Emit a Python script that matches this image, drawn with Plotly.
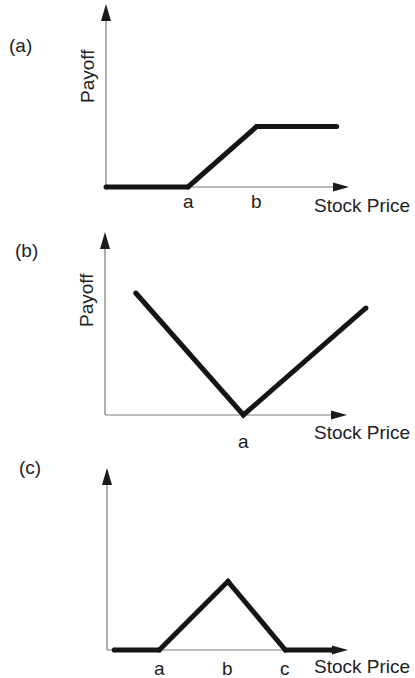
import plotly.graph_objects as go

# ---- payoff diagrams (stock price on x, payoff on y; arbitrary units) ----
# (a) bull spread
price_a = [0.0, 4.0, 7.35, 11.25]
payoff_a = [0.0, 0.0, 2.95, 2.95]
ticks_a = [4.0, 7.35]
ticklabels_a = ["a", "b"]

# (b) straddle
price_b = [1.5, 6.75, 12.73]
payoff_b = [5.95, 0.0, 5.22]
ticks_b = [6.75]
ticklabels_b = ["a"]

# (c) butterfly spread
price_c = [0.35, 2.55, 5.9, 8.7, 11.0]
payoff_c = [0.0, 0.0, 3.35, 0.0, 0.0]
ticks_c = [2.55, 5.9, 8.7]
ticklabels_c = ["a", "b", "c"]

panel_tags = ["(a)", "(b)", "(c)"]
x_title = "Stock Price"
y_title = "Payoff"

W, H = 415, 678
K = 20.5  # pixels per unit on both axes
FONT = dict(family="Liberation Sans, Arial, sans-serif", size=19, color="#1e1e1e")
LINE_COLOR = "#151515"
AXIS_COLOR = "#7a7a7a"

# panel geometry in pixels: origin, axis tips, plot box
panels = [
    dict(ox=106, oy=187, xtip=349, ytip=4, box=(85, 400, 0, 215),
         x=price_a, y=payoff_a, ticks=ticks_a, labels=ticklabels_a,
         tick_base=20, title_base=24, tag=(20, 46), ylab=(87, 76)),
    dict(ox=105, oy=415, xtip=347, ytip=232, box=(85, 400, 220, 455),
         x=price_b, y=payoff_b, ticks=ticks_b, labels=ticklabels_b,
         tick_base=32, title_base=23, tag=(26.5, 251), ylab=(86, 300)),
    dict(ox=107, oy=650, xtip=348, ytip=468, box=(85, 400, 455, 678),
         x=price_c, y=payoff_c, ticks=ticks_c, labels=ticklabels_c,
         tick_base=24, title_base=22, tag=(30, 467), ylab=None),
]

fig = go.Figure()
shapes = []
annotations = []
layout_axes = {}

for i, p in enumerate(panels):
    n = "" if i == 0 else str(i + 1)
    xa, ya = "x" + n, "y" + n
    left, right, top, bottom = p["box"]
    ox, oy = p["ox"], p["oy"]

    layout_axes["xaxis" + n] = dict(
        domain=[left / W, right / W],
        range=[(left - ox) / K, (right - ox) / K],
        visible=False, fixedrange=True, anchor=ya,
    )
    layout_axes["yaxis" + n] = dict(
        domain=[1 - bottom / H, 1 - top / H],
        range=[(oy - bottom) / K, (oy - top) / K],
        visible=False, fixedrange=True, anchor=xa,
    )

    x_end = (p["xtip"] - ox) / K
    y_end = (oy - p["ytip"]) / K

    # axis lines
    shapes.append(dict(type="line", xref=xa, yref=ya, x0=0, y0=0, x1=x_end - 0.3, y1=0,
                       line=dict(color=AXIS_COLOR, width=1.2), layer="below"))
    shapes.append(dict(type="line", xref=xa, yref=ya, x0=0, y0=0, x1=0, y1=y_end - 0.3,
                       line=dict(color=AXIS_COLOR, width=1.2), layer="below"))
    # arrowheads
    shapes.append(dict(type="path", xref=xa, yref=ya, xsizemode="pixel", ysizemode="pixel",
                       xanchor=x_end, yanchor=0, path="M 0,0 L -16,4.5 L -16,-4.5 Z",
                       fillcolor="#1a1a1a", line=dict(width=0)))
    shapes.append(dict(type="path", xref=xa, yref=ya, xsizemode="pixel", ysizemode="pixel",
                       xanchor=0, yanchor=y_end, path="M 0,0 L -5,-17 L 5,-17 Z",
                       fillcolor="#1a1a1a", line=dict(width=0)))

    # payoff line
    fig.add_trace(go.Scatter(
        x=p["x"], y=p["y"], xaxis=xa, yaxis=ya, mode="lines+markers",
        line=dict(color=LINE_COLOR, width=5),
        marker=dict(color=LINE_COLOR, size=5, line=dict(width=0)),
        hoverinfo="skip", showlegend=False,
    ))

    # strike labels under the axis
    for tv, tl in zip(p["ticks"], p["labels"]):
        annotations.append(dict(x=tv, y=0, xref=xa, yref=ya, text=tl, showarrow=False,
                                xanchor="center", yanchor="top",
                                yshift=-(p["tick_base"] - 18), font=FONT))

    # axis titles and panel tag
    annotations.append(dict(x=361.5 / W, y=0, xref="paper", yref=ya, text=x_title,
                            showarrow=False, xanchor="center", yanchor="top",
                            yshift=-(p["title_base"] - 18), font=FONT))
    if p["ylab"] is not None:
        annotations.append(dict(x=p["ylab"][0] / W, y=1 - p["ylab"][1] / H,
                                xref="paper", yref="paper", text=y_title, textangle=-90,
                                showarrow=False, xanchor="center", yanchor="middle", font=FONT))
    annotations.append(dict(x=p["tag"][0] / W, y=1 - p["tag"][1] / H, xref="paper", yref="paper",
                            text=panel_tags[i], showarrow=False, xanchor="center",
                            yanchor="middle", font=FONT))

fig.update_layout(
    width=W, height=H, margin=dict(l=0, r=0, t=0, b=0),
    paper_bgcolor="white", plot_bgcolor="white",
    showlegend=False, shapes=shapes, annotations=annotations,
    **layout_axes,
)

fig.write_html("out.html", config=dict(displayModeBar=False, staticPlot=True))
